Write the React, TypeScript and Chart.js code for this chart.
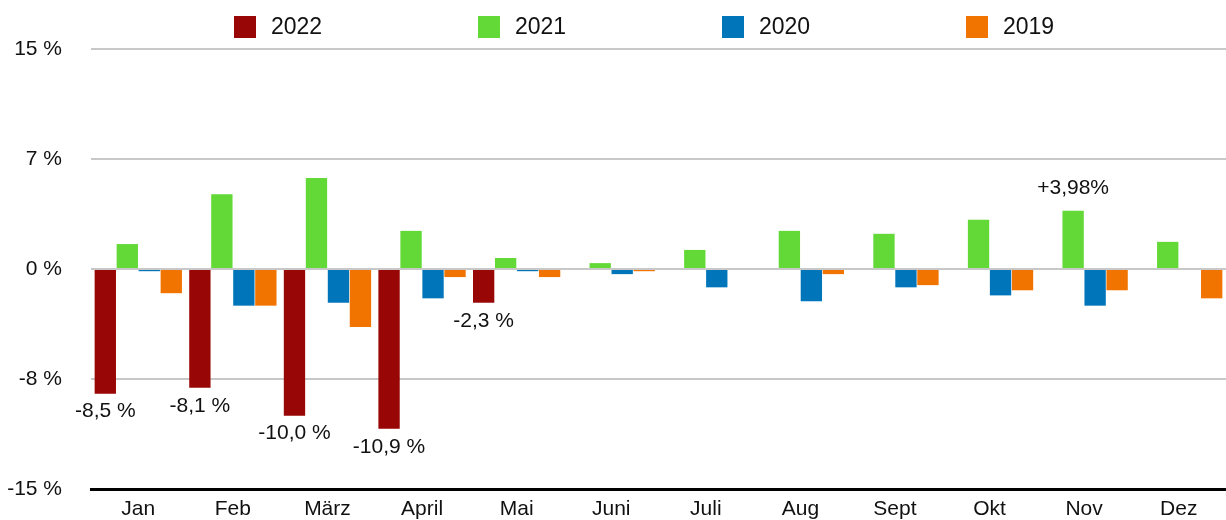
import React, { useEffect, useRef } from "react";
import { Chart, registerables } from "chart.js";

Chart.register(...registerables);

const months = ["Jan", "Feb", "März", "April", "Mai", "Juni", "Juli", "Aug", "Sept", "Okt", "Nov", "Dez"];
const seriesNames = ["2022", "2021", "2020", "2019"];
const values2022 = [-8.5, -8.1, -10.0, -10.9, -2.3, null, null, null, null, null, null, null];
const values2021 = [1.7, 5.1, 6.2, 2.6, 0.75, 0.4, 1.3, 2.6, 2.4, 3.35, 3.98, 1.85];
const values2020 = [-0.15, -2.5, -2.3, -2.0, -0.15, -0.35, -1.25, -2.2, -1.25, -1.8, -2.5, null];
const values2019 = [-1.65, -2.5, -3.95, -0.55, -0.55, -0.15, null, -0.35, -1.1, -1.45, -1.45, -2.0];
const seriesColors = ["#990606", "#62d936", "#0075ba", "#f27400"];

const yTickValues = [-15, -7.5, 0, 7.5, 15];
const yTickLabels = ["-15 %", "-8 %", "0 %", "7 %", "15 %"];

const annotSeries = [0, 0, 0, 0, 0, 1];
const annotMonth = [0, 1, 2, 3, 4, 10];
const annotText = ["-8,5 %", "-8,1 %", "-10,0 %", "-10,9 %", "-2,3 %", "+3,98%"];

const FONT = "'Liberation Sans', Arial, sans-serif";

const labelPlugin = {
  id: "valueLabels",
  afterDatasetsDraw(chart: any) {
    const ctx = chart.ctx;
    ctx.save();
    ctx.font = `21px ${FONT}`;
    ctx.fillStyle = "#111";
    ctx.textAlign = "center";
    ctx.textBaseline = "middle";
    for (let i = 0; i < annotText.length; i++) {
      const meta = chart.getDatasetMeta(annotSeries[i]);
      const el = meta.data[annotMonth[i]];
      const v = chart.data.datasets[annotSeries[i]].data[annotMonth[i]];
      if (!el || v == null) continue;
      const y = v < 0 ? el.y + 18 : el.y - 22;
      ctx.fillText(annotText[i], el.x, y);
    }
    ctx.restore();
  },
};

const legendPlugin = {
  id: "customLegend",
  afterDraw(chart: any) {
    const ctx = chart.ctx;
    const area = chart.chartArea;
    ctx.save();
    ctx.font = `23px ${FONT}`;
    ctx.textBaseline = "middle";
    ctx.textAlign = "left";
    const startX = area.left + 143;
    const step = 244;
    const cy = 27;
    chart.data.datasets.forEach((ds: any, i: number) => {
      const x = startX + i * step;
      ctx.fillStyle = ds.backgroundColor;
      ctx.fillRect(x, cy - 11, 22, 22);
      ctx.fillStyle = "#111";
      ctx.fillText(ds.label, x + 37, cy + 1);
    });
    ctx.restore();
  },
};

export default function App() {
  const ref = useRef<HTMLCanvasElement>(null);
  useEffect(() => {
    document.body.style.margin = "0";
    const allValues = [values2022, values2021, values2020, values2019];
    const chart = new Chart(ref.current as HTMLCanvasElement, {
      type: "bar",
      data: {
        labels: months,
        datasets: seriesNames.map((name, i) => ({
          label: name,
          data: allValues[i],
          backgroundColor: seriesColors[i],
          borderWidth: 0,
          categoryPercentage: 0.93,
          barPercentage: 0.97,
        })),
      },
      options: {
        responsive: false,
        animation: false,
        layout: { padding: { top: 49, right: 0, left: 0, bottom: 0 } },
        plugins: { legend: { display: false }, tooltip: { enabled: false } },
        scales: {
          x: {
            grid: { display: false, drawTicks: false },
            border: { display: true, color: "#000", width: 3 },
            ticks: { color: "#111", font: { size: 21, family: FONT }, padding: 8, maxRotation: 0 },
            afterFit(scale: any) {
              scale.height = 31;
            },
          },
          y: {
            min: -15,
            max: 15,
            afterBuildTicks(scale: any) {
              scale.ticks = yTickValues.map((v) => ({ value: v }));
            },
            grid: { color: "#c8c8c8", lineWidth: 2, drawTicks: true, tickLength: 29, tickColor: "rgba(0,0,0,0)" },
            border: { display: false },
            ticks: {
              color: "#111",
              font: { size: 21, family: FONT },
              padding: 0,
              callback(value: any) {
                const idx = yTickValues.indexOf(Number(value));
                return idx >= 0 ? yTickLabels[idx] : "";
              },
            },
            afterFit(scale: any) {
              scale.width = 91;
            },
          },
        },
      },
      plugins: [labelPlugin, legendPlugin],
    });
    return () => chart.destroy();
  }, []);
  return (
    <div style={{ position: "absolute", left: 0, top: 0, width: 1226, height: 520, background: "#fff" }}>
      <canvas ref={ref} width={1226} height={520} style={{ display: "block" }} />
    </div>
  );
}
